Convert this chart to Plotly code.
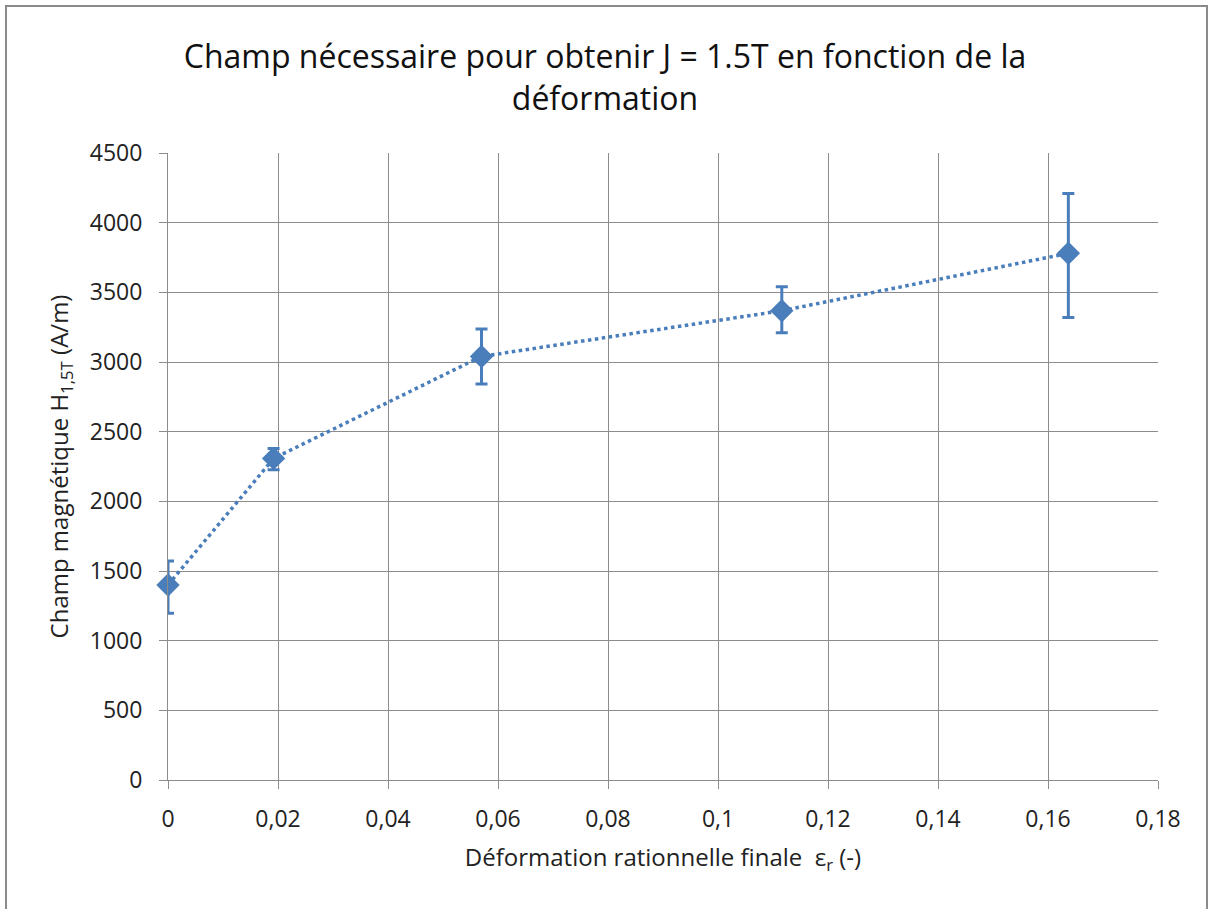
import plotly.graph_objects as go

# Data
deformation = [0.0, 0.0192, 0.0570, 0.1116, 0.1637]
champ_H = [1400, 2308, 3040, 3368, 3780]
err_plus = [172, 72, 197, 172, 430]
err_minus = [203, 82, 197, 158, 460]

x_ticks = [0, 0.02, 0.04, 0.06, 0.08, 0.1, 0.12, 0.14, 0.16, 0.18]
y_ticks = [0, 500, 1000, 1500, 2000, 2500, 3000, 3500, 4000, 4500]

BLUE = "#4a7ebb"
GRID = "#8c8c8c"
FONT = "Open Sans"

fig = go.Figure()
fig.add_trace(go.Scatter(
    x=deformation, y=champ_H,
    mode="lines+markers",
    line=dict(color=BLUE, width=3.5, dash="dot"),
    marker=dict(symbol="diamond", size=18, color=BLUE),
    error_y=dict(type="data", symmetric=False, array=err_plus, arrayminus=err_minus,
                 color=BLUE, thickness=3, width=6),
    cliponaxis=False,
    showlegend=False,
))

W, H = 1210, 909
L, R, T, B = 168, 1158, 153, 780

fig.update_layout(
    width=W, height=H,
    margin=dict(l=L, r=W - R, t=T, b=H - B, pad=0),
    paper_bgcolor="white", plot_bgcolor="white",
    separators=", ",
    font=dict(family=FONT, color="#222222", size=23),
    title=dict(
        text="Champ nécessaire pour obtenir J = 1.5T en fonction de la<br>déformation",
        x=0.5, xanchor="center", xref="container",
        y=1 - 68 / H, yanchor="middle", yref="container",
        font=dict(family=FONT, size=32, color="#111111"),
    ),
    xaxis=dict(
        range=[0, 0.18], tickvals=x_ticks, tickformat=".2~f",
        showgrid=True, gridcolor=GRID, gridwidth=1,
        showline=True, linecolor=GRID, linewidth=1,
        ticks="outside", ticklen=8, tickcolor=GRID, tickwidth=1,
        ticklabelstandoff=10,
        zeroline=False,
        tickfont=dict(size=23),
        title=dict(text="Déformation rationnelle finale  ε<sub>r</sub> (-)",
                   font=dict(size=24), standoff=16),
    ),
    yaxis=dict(
        range=[0, 4500], tickvals=y_ticks,
        showgrid=True, gridcolor=GRID, gridwidth=1,
        showline=True, linecolor=GRID, linewidth=1,
        ticks="outside", ticklen=8, tickcolor=GRID, tickwidth=1,
        ticklabelstandoff=12,
        zeroline=False,
        tickfont=dict(size=23),
        title=dict(text="Champ magnétique H<sub>1,5T</sub> (A/m)",
                   font=dict(size=24), standoff=14),
    ),
    shapes=[dict(
        type="rect", xref="paper", yref="paper",
        x0=(6 - L) / (R - L), x1=(1207 - L) / (R - L),
        y0=(B - 915) / (B - T), y1=(B - 6) / (B - T),
        line=dict(color="#8a8a8a", width=2), fillcolor="rgba(0,0,0,0)", layer="below",
    )],
)

fig.write_html("out.html", config={"displayModeBar": False},
               post_script="document.body.style.margin='0';")
